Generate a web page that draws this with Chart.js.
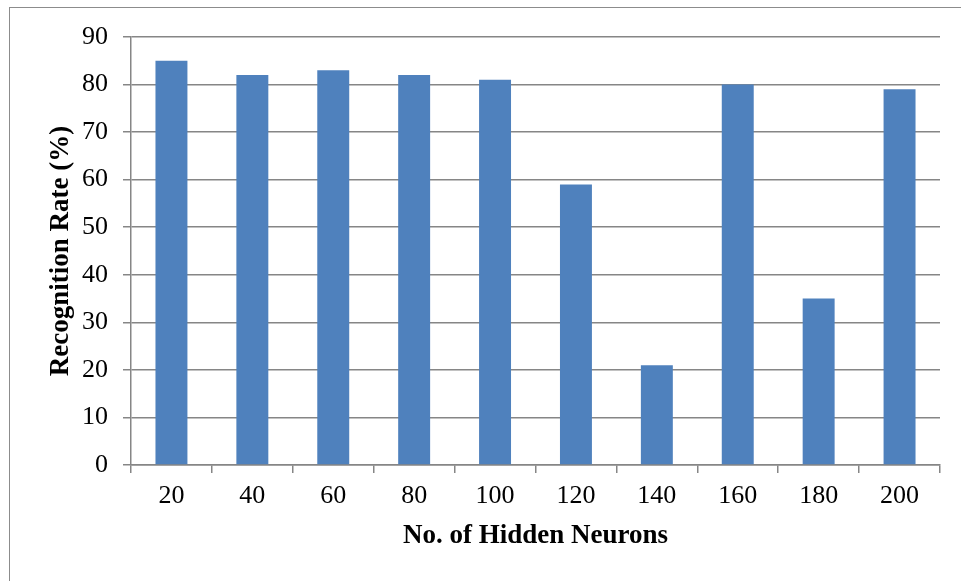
<!DOCTYPE html>
<html>
<head>
<meta charset="utf-8">
<script src="https://cdn.jsdelivr.net/npm/chart.js@4.4.1/dist/chart.umd.min.js"></script>
<style>
  html, body { margin: 0; padding: 0; background: #ffffff; }
  #wrap { position: relative; width: 961px; height: 581px; overflow: hidden; }
</style>
</head>
<body>
<div id="wrap">
  <canvas id="chart" width="961" height="581"></canvas>
</div>
<script>
// data
const neurons = ["20", "40", "60", "80", "100", "120", "140", "160", "180", "200"];
const recognitionRate = [85, 82, 83, 82, 81, 59, 21, 80, 35, 79];

const xTitle = "No. of Hidden Neurons";
const yTitle = "Recognition Rate (%)";

const serif = "'Liberation Serif', 'Times New Roman', serif";
const gridGray = "#868686";

// thin frame round the whole figure, like the Excel chart border
const framePlugin = {
  id: "frame",
  beforeDraw(chart) {
    const ctx = chart.ctx;
    ctx.save();
    ctx.strokeStyle = "#8c8c8c";
    ctx.lineWidth = 1;
    ctx.strokeRect(9.5, 7.5, 1000, 1000);
    ctx.restore();
  }
};

new Chart(document.getElementById("chart"), {
  type: "bar",
  data: {
    labels: neurons,
    datasets: [
      {
        label: "Recognition Rate",
        data: recognitionRate,
        backgroundColor: "#4F81BD",
        borderWidth: 0,
        categoryPercentage: 1,
        barPercentage: 0.395
      }
    ]
  },
  options: {
    responsive: false,
    animation: false,
    layout: {
      padding: { top: 37, right: 21, bottom: 0, left: 0 }
    },
    plugins: {
      legend: { display: false },
      tooltip: { enabled: false }
    },
    scales: {
      x: {
        grid: {
          drawOnChartArea: false,
          drawTicks: true,
          tickLength: 8,
          color: gridGray,
          lineWidth: 1.5
        },
        border: { color: gridGray, width: 1.5 },
        ticks: {
          color: "#000000",
          padding: 8,
          font: { family: serif, size: 26 }
        },
        title: {
          display: true,
          text: xTitle,
          color: "#000000",
          padding: { top: 0, bottom: 29 },
          font: { family: serif, size: 27, weight: "bold" }
        },
        afterFit(scale) {
          scale.height = 116;
        }
      },
      y: {
        min: 0,
        max: 90,
        grid: {
          drawTicks: true,
          tickLength: 8,
          color: gridGray,
          lineWidth: 1.5
        },
        border: { color: gridGray, width: 1.5 },
        ticks: {
          stepSize: 10,
          color: "#000000",
          padding: 15,
          font: { family: serif, size: 26 }
        },
        title: {
          display: true,
          text: yTitle,
          color: "#000000",
          padding: { top: 45, bottom: 0 },
          font: { family: serif, size: 27, weight: "bold" }
        },
        afterFit(scale) {
          scale.width = 131;
        }
      }
    }
  },
  plugins: [framePlugin]
});
</script>
</body>
</html>
